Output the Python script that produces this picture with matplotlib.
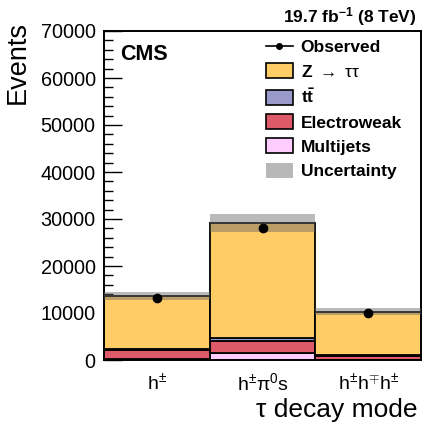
import matplotlib
matplotlib.use("Agg")
import matplotlib.pyplot as plt
import numpy as np
from matplotlib.lines import Line2D
from matplotlib.patches import Patch
from matplotlib.ticker import MultipleLocator

plt.rcParams["font.family"] = ["Liberation Sans", "DejaVu Sans"]
plt.rcParams["mathtext.fontset"] = "custom"
plt.rcParams["mathtext.rm"] = "Liberation Sans"
plt.rcParams["mathtext.bf"] = "Liberation Sans:bold"
plt.rcParams["mathtext.it"] = "Liberation Sans:italic"

# decay-mode categories
modes = [r"h$^{\pm}$", r"h$^{\pm}$π$^{0}$s", r"h$^{\pm}$h$^{\mp}$h$^{\pm}$"]

# background / signal yields per mode (stack order: bottom to top)
multijets = [120, 1400, 100]
electroweak = [2050, 2650, 700]
ttbar = [150, 650, 200]
ztautau = [11280, 24500, 9280]
uncertainty = [900, 1950, 700]
observed = [13200, 28150, 9930]

stack = [
    ("Multijets", multijets, "#FFCCFF"),
    ("Electroweak", electroweak, "#DE5A6A"),
    (r"$\mathbf{t\bar{t}}$", ttbar, "#9999CC"),
    (r"Z $\rightarrow$ $\mathrm{\tau\tau}$", ztautau, "#FFCC66"),
]

fig = plt.figure(figsize=(4.22, 4.26), dpi=100)
ax = fig.add_axes([104 / 422, 1 - 360 / 426, 317 / 422, 329 / 426])

x = np.arange(len(modes))
bottom = np.zeros(len(modes))
for name, vals, col in stack:
    vals = np.asarray(vals, dtype=float)
    ax.bar(x, vals, width=1.0, bottom=bottom, color=col, edgecolor="black",
           linewidth=1.3, zorder=2)
    bottom = bottom + vals
total = bottom

unc = np.asarray(uncertainty, dtype=float)
ax.bar(x, 2 * unc, width=1.0, bottom=total - unc, color="#666666", alpha=0.45,
       linewidth=0, zorder=3)

obs = np.asarray(observed, dtype=float)
ax.errorbar(x, obs, yerr=np.sqrt(obs), fmt="o", color="black", ms=6,
            elinewidth=1.2, capsize=0, zorder=4)

ax.set_xlim(-0.5, 2.5)
ax.set_ylim(0, 70000)
ax.yaxis.set_major_locator(MultipleLocator(10000))
ax.yaxis.set_minor_locator(MultipleLocator(2000))
ax.tick_params(axis="y", which="major", direction="in", length=13, width=1,
               labelsize=14.3, pad=6)
ax.tick_params(axis="y", which="minor", direction="in", length=6.5, width=1)
ax.set_xticks(x)
ax.set_xticklabels(modes)
ax.tick_params(axis="x", length=0, labelsize=14, pad=9)
for sp in ax.spines.values():
    sp.set_linewidth(1.4)

fig.text(18 / 422, 1 - 21 / 426, "Events", rotation=90, ha="center", va="top",
         fontsize=19.5)
fig.text(418 / 422, 1 - 410 / 426, "τ decay mode", ha="right", va="center",
         fontsize=19)
ax.text(0.05, 0.93, "CMS", transform=ax.transAxes, fontsize=15.5,
        fontweight="bold", ha="left", va="center")
fig.text(416 / 422, 1 - 17 / 426, r"19.7 fb$^{\mathbf{-1}}$ (8 TeV)", ha="right",
         va="center", fontsize=12.5, fontweight="bold")

handles = [Line2D([0], [0], color="black", marker="o", ms=4, lw=1.2)]
labels = ["Observed"]
for name, vals, col in stack[::-1]:
    handles.append(Patch(facecolor=col, edgecolor="black", linewidth=1.2))
    labels.append(name)
handles.append(Patch(facecolor="#B8B8B8", edgecolor="none"))
labels.append("Uncertainty")

leg = ax.legend(handles, labels, loc="upper left",
                bbox_to_anchor=(266 / 422, 1 - 39 / 426),
                bbox_transform=fig.transFigure, frameon=False,
                prop={"weight": "bold", "size": 12.5}, handlelength=1.55,
                handleheight=0.95, labelspacing=0.45, handletextpad=0.45,
                borderpad=0, borderaxespad=0)

fig.savefig("out.png", dpi=100)
